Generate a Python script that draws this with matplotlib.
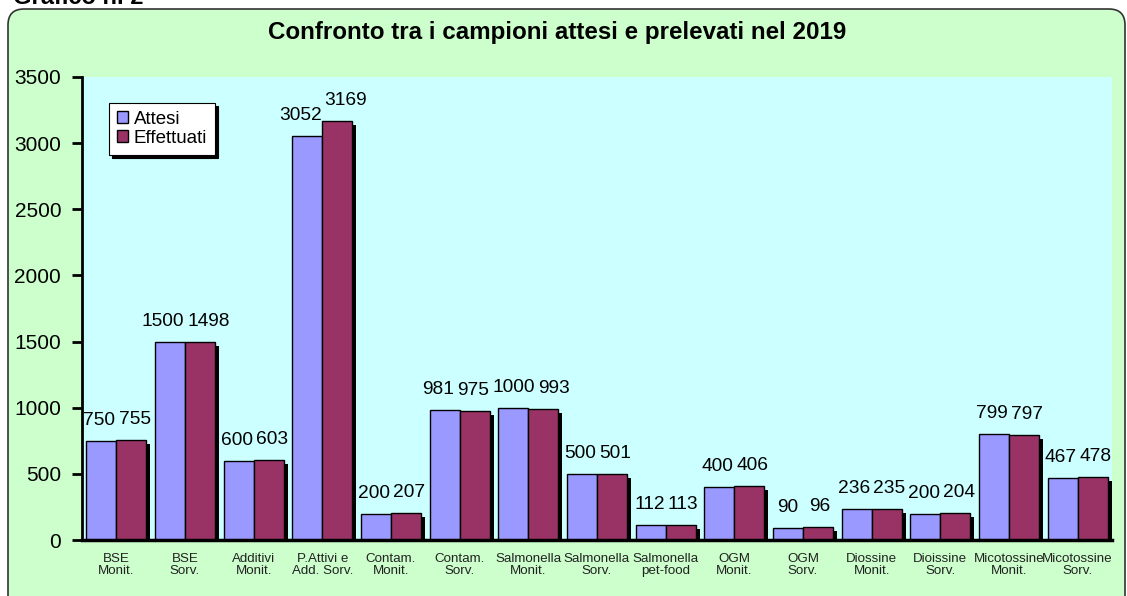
import matplotlib
matplotlib.use("Agg")
import matplotlib.pyplot as plt
import matplotlib.patheffects as pe
from matplotlib.patches import FancyBboxPatch
import numpy as np

plt.rcParams['font.family'] = ['Liberation Sans', 'DejaVu Sans']

categories = ["BSE\nMonit.", "BSE\nSorv.", "Additivi\nMonit.", "P.Attivi e\nAdd. Sorv.",
              "Contam.\nMonit.", "Contam.\nSorv.", "Salmonella\nMonit.", "Salmonella\nSorv.",
              "Salmonella\npet-food", "OGM\nMonit.", "OGM\nSorv.", "Diossine\nMonit.",
              "Dioissine\nSorv.", "Micotossine\nMonit.", "Micotossine\nSorv."]
attesi = [750, 1500, 600, 3052, 200, 981, 1000, 500, 112, 400, 90, 236, 200, 799, 467]
effettuati = [755, 1498, 603, 3169, 207, 975, 993, 501, 113, 406, 96, 235, 204, 797, 478]
series_names = ["Attesi", "Effettuati"]
y_ticks = [0, 500, 1000, 1500, 2000, 2500, 3000, 3500]
title = "Confronto tra i campioni attesi e prelevati nel 2019"

W, H = 1127, 596
DPI = 100
fig = plt.figure(figsize=(W / DPI, H / DPI), dpi=DPI)
fig.patch.set_facecolor('white')

# background rounded box
bg = fig.add_axes([0, 0, 1, 1], zorder=0)
bg.set_xlim(0, W)
bg.set_ylim(H, 0)
bg.axis('off')
bg.add_patch(FancyBboxPatch((8, 9), W - 10, 650,
                            boxstyle="round,pad=0,rounding_size=16",
                            facecolor='#ccffcc', edgecolor='#333333', lw=1.2))
bg.text(13, 4, "Grafico n. 2", fontsize=17, fontweight='bold', ha='left', va='baseline')

ax = fig.add_axes([82 / W, 1 - 540 / H, (1112 - 82) / W, (540 - 77) / H], zorder=1)
ax.set_facecolor('#ccffff')

x = np.arange(len(categories))
bw = 0.435
shadow = [pe.SimplePatchShadow(offset=(3, -3), shadow_rgbFace='black', alpha=1.0), pe.Normal()]
b1 = ax.bar(x - bw / 2, attesi, bw, color='#9999ff', edgecolor='black', lw=1.0,
            label=series_names[0], zorder=2)
b2 = ax.bar(x + bw / 2, effettuati, bw, color='#993366', edgecolor='black', lw=1.0,
            label=series_names[1], zorder=3)
for r in list(b1) + list(b2):
    r.set_path_effects(shadow)

labels = []
for xi, va_, vb_ in zip(x, attesi, effettuati):
    la = ax.annotate(str(va_), (xi - bw / 2, va_), xytext=(0, 8.5), textcoords='offset points',
                     ha='center', va='bottom', fontsize=13.8, zorder=5)
    lb = ax.annotate(str(vb_), (xi + bw / 2, vb_), xytext=(1, 8.5), textcoords='offset points',
                     ha='center', va='bottom', fontsize=13.8, zorder=5)
    labels += [la, lb]

ax.set_xlim(-0.5, len(categories) - 0.5)
ax.set_ylim(0, 3500)
ax.set_yticks(y_ticks)
ax.set_yticklabels([str(t) for t in y_ticks], fontsize=15)
ax.set_xticks(x)
ax.set_xticklabels(categories, fontsize=9.6, color='#222222', linespacing=1.1)
ax.tick_params(axis='x', length=0, pad=9)
ax.tick_params(axis='y', length=7, width=2, pad=8)
for s in ['top', 'right']:
    ax.spines[s].set_visible(False)
ax.spines['left'].set_linewidth(2)
ax.spines['bottom'].set_linewidth(2.5)
ax.spines['left'].set_zorder(6)
ax.spines['bottom'].set_zorder(6)

leg = ax.legend(loc='upper left', bbox_to_anchor=(0.026, 0.944), fontsize=13.5,
                frameon=True, fancybox=False, edgecolor='black', framealpha=1,
                shadow={'color': 'black', 'alpha': 1.0},
                handlelength=0.6, handleheight=0.6, handletextpad=0.3,
                borderpad=0.42, labelspacing=0.12, borderaxespad=0)
leg.get_frame().set_linewidth(0.8)
for h in leg.legend_handles:
    h.set_path_effects([])
leg.set_zorder(10)

fig.text(0.494, 1 - 33 / H, title, fontsize=17.4, fontweight='bold', ha='center', va='center')

# push apart overlapping value labels (like Excel does)
fig.canvas.draw()
renderer = fig.canvas.get_renderer()
gap = 3.0
for _ in range(30):
    moved = False
    for a, b in zip(labels[:-1], labels[1:]):
        ea = a.get_window_extent(renderer)
        eb = b.get_window_extent(renderer)
        if ea.y1 > eb.y0 and eb.y1 > ea.y0 and ea.x1 + gap > eb.x0:
            d = (ea.x1 + gap - eb.x0) / 2 * 72 / DPI + 0.05
            a.xyann = (a.xyann[0] - d, a.xyann[1])
            b.xyann = (b.xyann[0] + d, b.xyann[1])
            moved = True
    if not moved:
        break

fig.savefig('out.png', dpi=DPI)
